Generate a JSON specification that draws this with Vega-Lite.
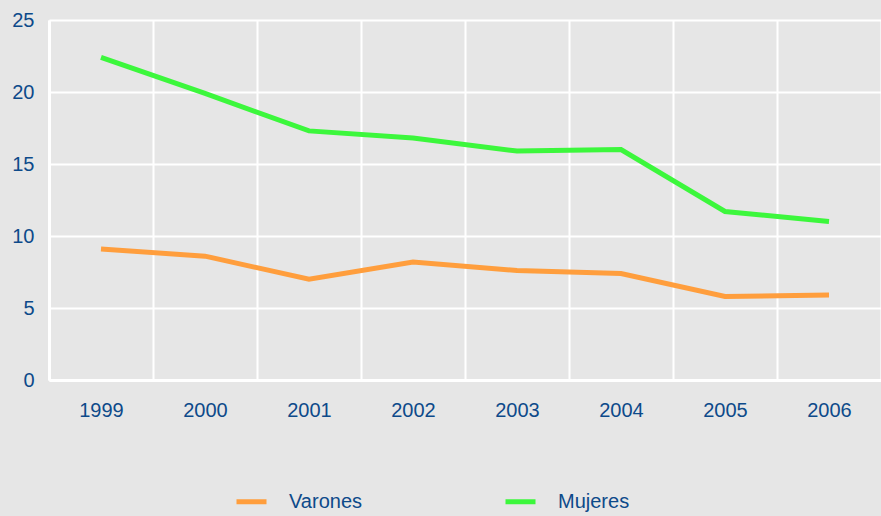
{
  "$schema": "https://vega.github.io/schema/vega-lite/v6.json",
  "width": 832,
  "height": 360,
  "autosize": "none",
  "padding": {"left": 49, "top": 20, "right": 0, "bottom": 136},
  "background": "#e6e6e6",
  "config": {
    "view": {"stroke": null, "fill": "#e6e6e6"},
    "font": "Liberation Sans"
  },
  "data": {
    "values": [
      {"year": "1999", "serie": "Varones", "valor": 9.1},
      {"year": "2000", "serie": "Varones", "valor": 8.6},
      {"year": "2001", "serie": "Varones", "valor": 7.0},
      {"year": "2002", "serie": "Varones", "valor": 8.2},
      {"year": "2003", "serie": "Varones", "valor": 7.6},
      {"year": "2004", "serie": "Varones", "valor": 7.4},
      {"year": "2005", "serie": "Varones", "valor": 5.8},
      {"year": "2006", "serie": "Varones", "valor": 5.9},
      {"year": "1999", "serie": "Mujeres", "valor": 22.4},
      {"year": "2000", "serie": "Mujeres", "valor": 19.9},
      {"year": "2001", "serie": "Mujeres", "valor": 17.3},
      {"year": "2002", "serie": "Mujeres", "valor": 16.8},
      {"year": "2003", "serie": "Mujeres", "valor": 15.9},
      {"year": "2004", "serie": "Mujeres", "valor": 16.0},
      {"year": "2005", "serie": "Mujeres", "valor": 11.7},
      {"year": "2006", "serie": "Mujeres", "valor": 11.0}
    ]
  },
  "mark": {"type": "line", "strokeWidth": 5, "strokeCap": "butt", "strokeJoin": "miter"},
  "encoding": {
    "x": {
      "field": "year",
      "type": "ordinal",
      "bandPosition": 0.5,
      "scale": {"type": "band", "paddingInner": 0, "paddingOuter": 0},
      "axis": {
        "title": null,
        "labelAngle": 0,
        "labelFontSize": 20,
        "labelColor": "#0d4a8a",
        "labelPadding": 20,
        "ticks": false,
        "tickBand": "extent",
        "grid": true,
        "gridColor": "#ffffff",
        "gridWidth": 2,
        "gridOpacity": 1,
        "domainColor": "#ffffff",
        "domainWidth": 3
      }
    },
    "y": {
      "field": "valor",
      "type": "quantitative",
      "scale": {"domain": [0, 25], "nice": false},
      "axis": {
        "title": null,
        "values": [0, 5, 10, 15, 20, 25],
        "labelFontSize": 20,
        "labelColor": "#0d4a8a",
        "labelPadding": 15,
        "ticks": false,
        "grid": true,
        "gridColor": "#ffffff",
        "gridWidth": 2,
        "gridOpacity": 1,
        "domainColor": "#ffffff",
        "domainWidth": 3
      }
    },
    "color": {
      "field": "serie",
      "type": "nominal",
      "sort": ["Varones", "Mujeres"],
      "scale": {"domain": ["Varones", "Mujeres"], "range": ["#ff9e3d", "#3cf73c"]},
      "legend": {
        "title": null,
        "orient": "none",
        "direction": "horizontal",
        "legendX": 185,
        "legendY": 464,
        "symbolType": "stroke",
        "symbolSize": 900,
        "symbolStrokeWidth": 5,
        "labelFontSize": 20,
        "labelColor": "#0d4a8a",
        "labelOffset": 20,
        "columnPadding": 132
      }
    }
  }
}
